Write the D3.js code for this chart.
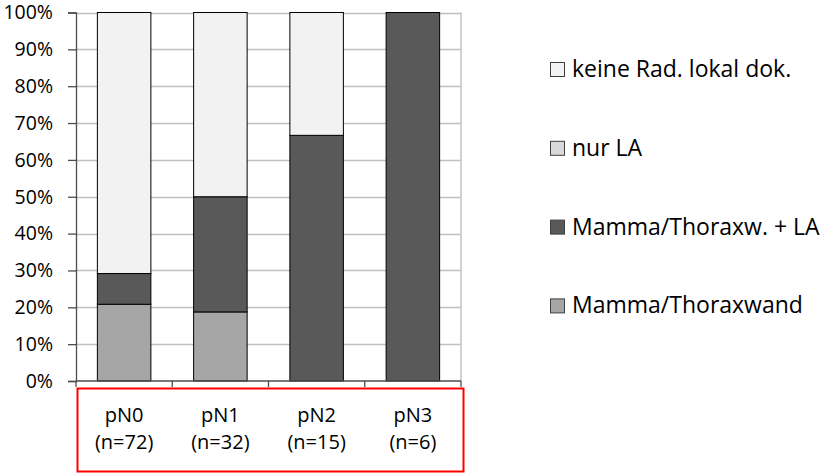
<!DOCTYPE html>
<html><head><meta charset="utf-8">
<script src="https://cdn.jsdelivr.net/npm/d3@7"></script>
<style>body{margin:0;background:#fff}svg{display:block}</style>
</head><body><svg id="chart" width="826" height="473"></svg>
<script>
// ---- data ----
const categories = ["pN0", "pN1", "pN2", "pN3"];
const categoryCounts = ["(n=72)", "(n=32)", "(n=15)", "(n=6)"];
const seriesNames = ["Mamma/Thoraxwand", "Mamma/Thoraxw. + LA", "nur LA", "keine Rad. lokal dok."];
const mammaThoraxwand = [20.83, 18.75, 0, 0];
const mammaThoraxwLA = [8.33, 31.25, 66.67, 100];
const nurLA = [0, 0, 0, 0];
const keineRad = [70.84, 50, 33.33, 0];
const yTicks = [0, 10, 20, 30, 40, 50, 60, 70, 80, 90, 100];
const seriesColors = ["#a6a6a6", "#595959", "#d9d9d9", "#f2f2f2"];

const seriesValues = [mammaThoraxwand, mammaThoraxwLA, nurLA, keineRad];
const table = categories.map((c, i) => {
  const row = { cat: c };
  seriesNames.forEach((s, j) => row[s] = seriesValues[j][i]);
  return row;
});

const FONT = "'Open Sans', sans-serif";
const svg = d3.select("#chart");

const x = d3.scaleBand().domain(categories).range([76, 461]).padding(0);
const y = d3.scaleLinear().domain([0, 100]).range([381, 12.5]);
const barW = x.bandwidth() * 0.556;

// gridlines
svg.append("g").selectAll("line").data(yTicks.filter(d => d > 0)).join("line")
  .attr("x1", 76).attr("x2", 461)
  .attr("y1", d => Math.round(y(d)) + 0.5).attr("y2", d => Math.round(y(d)) + 0.5)
  .attr("stroke", "#bfbfbf").attr("stroke-width", 1.4);
svg.append("line")
  .attr("x1", 461).attr("x2", 461).attr("y1", y(100)).attr("y2", y(0))
  .attr("stroke", "#bfbfbf").attr("stroke-width", 1.4);

// stacked bars
const stack = d3.stack().keys(seriesNames)(table);
svg.append("g").selectAll("g").data(stack).join("g")
  .attr("fill", (d, i) => seriesColors[i])
  .selectAll("rect").data(d => d.filter(p => p[1] - p[0] > 0)).join("rect")
  .attr("x", d => x(d.data.cat) + (x.bandwidth() - barW) / 2)
  .attr("width", barW)
  .attr("y", d => y(d[1]))
  .attr("height", d => y(d[0]) - y(d[1]))
  .attr("stroke", "#000").attr("stroke-width", 1);

// y axis
const yAxis = svg.append("g").attr("transform", "translate(76,0)")
  .call(d3.axisLeft(y).tickValues(yTicks).tickFormat(d => d + "%").tickSize(8).tickPadding(15));
yAxis.select(".domain").attr("stroke", "#4d4d4d").attr("stroke-width", 1.3);
yAxis.selectAll(".tick line").attr("stroke", "#4d4d4d").attr("stroke-width", 1.3);
yAxis.selectAll("text").attr("font-family", FONT).attr("font-size", 19.5).attr("fill", "#000");

// x axis line and boundary ticks
svg.append("line").attr("x1", 76).attr("x2", 461).attr("y1", y(0)).attr("y2", y(0))
  .attr("stroke", "#4d4d4d").attr("stroke-width", 1.3);
const bounds = categories.map(c => x(c)).concat([x.range()[1]]);
svg.append("g").selectAll("line").data(bounds).join("line")
  .attr("x1", d => d).attr("x2", d => d).attr("y1", y(0)).attr("y2", y(0) + 6)
  .attr("stroke", "#4d4d4d").attr("stroke-width", 1.3);

// category labels
const lab = svg.append("g").attr("font-family", FONT).attr("font-size", 20).attr("text-anchor", "middle");
lab.selectAll("text.c").data(categories).join("text").attr("class", "c")
  .attr("x", d => x(d) + x.bandwidth() / 2).attr("y", 422).text(d => d);
lab.selectAll("text.n").data(categoryCounts).join("text").attr("class", "n")
  .attr("x", (d, i) => x(categories[i]) + x.bandwidth() / 2).attr("y", 449).text(d => d);

// red box
svg.append("rect").attr("x", 77.5).attr("y", 388.5).attr("width", 386).attr("height", 83)
  .attr("fill", "none").attr("stroke", "#ff0000").attr("stroke-width", 2);

// legend (top to bottom: reverse of stack order)
const legendOrder = seriesNames.map((s, i) => i).reverse();
const lg = svg.append("g").selectAll("g").data(legendOrder).join("g")
  .attr("transform", (d, k) => `translate(550,${77 + k * 78.8})`);
lg.append("rect").attr("x", 0.5).attr("y", -14.5).attr("width", 14).attr("height", 14)
  .attr("fill", d => seriesColors[d]).attr("stroke", "#404040").attr("stroke-width", 1);
lg.append("text").attr("x", 22).attr("y", 0).attr("font-family", FONT).attr("font-size", 23)
  .text(d => seriesNames[d]);
</script>
</body></html>
